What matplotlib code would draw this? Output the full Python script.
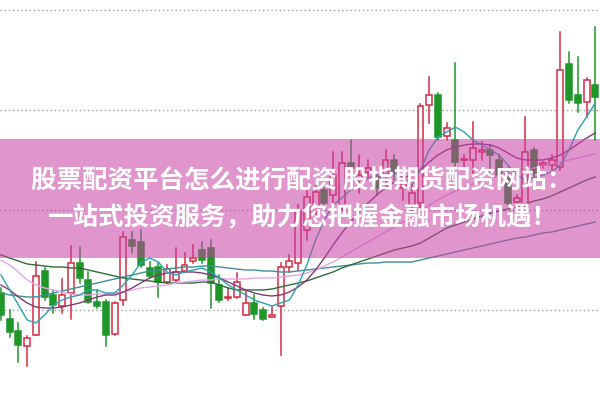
import matplotlib
matplotlib.use("Agg")
import matplotlib.pyplot as plt
from matplotlib.patches import Rectangle
import numpy as np

plt.rcParams['font.family'] = ['Noto Sans CJK SC', 'DejaVu Sans']

# daily candles (index level)
opens  = [3107, 3081, 3069, 3054, 3065, 3129, 3105, 3094, 3107, 3137,
          3120, 3098, 3098, 3066, 3100, 3160, 3158, 3132, 3133, 3118,
          3120, 3129, 3139, 3150, 3152, 3115, 3102, 3103, 3085, 3097,
          3090, 3083, 3094, 3133, 3137, 3170, 3188, 3210, 3205, 3195,
          3237, 3220, 3228, 3223, 3225, 3240, 3212, 3195, 3197, 3295,
          3305, 3264, 3260, 3240, 3240, 3248, 3250, 3240, 3223, 3198,
          3193, 3250, 3235, 3235, 3233, 3336, 3305, 3298, 3315]
highs  = [3112, 3090, 3077, 3064, 3138, 3132, 3110, 3121, 3154, 3153,
          3128, 3110, 3100, 3098, 3168, 3168, 3170, 3138, 3137, 3135,
          3152, 3147, 3155, 3158, 3160, 3125, 3112, 3127, 3110, 3105,
          3092, 3093, 3137, 3145, 3195, 3210, 3215, 3220, 3248, 3248,
          3260, 3245, 3240, 3228, 3250, 3245, 3223, 3215, 3296, 3323,
          3307, 3277, 3337, 3245, 3278, 3258, 3255, 3245, 3232, 3205,
          3283, 3252, 3238, 3245, 3368, 3348, 3343, 3322, 3373]
lows   = [3080, 3063, 3038, 3034, 3065, 3100, 3087, 3087, 3081, 3117,
          3097, 3092, 3054, 3065, 3095, 3147, 3133, 3122, 3103, 3117,
          3118, 3128, 3137, 3137, 3092, 3098, 3100, 3102, 3085, 3081,
          3080, 3083, 3045, 3128, 3130, 3160, 3185, 3190, 3190, 3190,
          3220, 3207, 3222, 3205, 3213, 3220, 3200, 3190, 3190, 3277,
          3260, 3260, 3233, 3233, 3227, 3240, 3227, 3220, 3195, 3193,
          3193, 3220, 3232, 3230, 3230, 3297, 3288, 3283, 3260]
closes = [3085, 3068, 3055, 3062, 3124, 3103, 3095, 3105, 3137, 3122,
          3098, 3094, 3065, 3097, 3163, 3154, 3135, 3124, 3118, 3131,
          3128, 3135, 3142, 3140, 3117, 3100, 3103, 3118, 3097, 3086,
          3081, 3085, 3133, 3139, 3188, 3203, 3208, 3197, 3225, 3237,
          3232, 3225, 3232, 3212, 3240, 3228, 3215, 3207, 3294, 3305,
          3263, 3272, 3238, 3241, 3252, 3250, 3245, 3225, 3197, 3202,
          3248, 3227, 3237, 3240, 3330, 3300, 3297, 3320, 3303]

# moving average lines
ma5  = [3125, 3110, 3095, 3080, 3077, 3085, 3095, 3100, 3103, 3105,
        3110, 3110, 3107, 3107, 3115, 3125, 3137, 3142, 3138, 3128,
        3125, 3128, 3130, 3132, 3128, 3122, 3115, 3110, 3105, 3100,
        3097, 3094, 3097, 3100, 3115, 3135, 3160, 3180, 3195, 3202,
        3210, 3215, 3222, 3225, 3226, 3228, 3222, 3215, 3230, 3250,
        3263, 3268, 3273, 3268, 3260, 3255, 3250, 3245, 3235, 3225,
        3220, 3222, 3225, 3228, 3235, 3250, 3270, 3283, 3297]
ma10 = [3115, 3110, 3103, 3097, 3093, 3092, 3092, 3093, 3095, 3097,
        3100, 3103, 3105, 3105, 3108, 3112, 3117, 3122, 3125, 3127,
        3128, 3128, 3128, 3127, 3125, 3122, 3118, 3114, 3110, 3107,
        3105, 3104, 3105, 3108, 3113, 3120, 3130, 3142, 3155, 3167,
        3178, 3188, 3197, 3205, 3212, 3218, 3222, 3225, 3230, 3238,
        3245, 3250, 3253, 3255, 3256, 3256, 3255, 3252, 3247, 3242,
        3240, 3240, 3240, 3242, 3245, 3250, 3256, 3262, 3267]
ma20 = [3140, 3135, 3128, 3120, 3115, 3112, 3110, 3108, 3106, 3105,
        3105, 3106, 3106, 3107, 3108, 3110, 3112, 3113, 3114, 3115,
        3117, 3118, 3119, 3120, 3120, 3121, 3121, 3121, 3121, 3122,
        3122, 3122, 3123, 3124, 3125, 3127, 3130, 3134, 3138, 3143,
        3148, 3153, 3158, 3163, 3168, 3173, 3178, 3182, 3188, 3195,
        3200, 3205, 3209, 3213, 3216, 3219, 3222, 3224, 3226, 3228,
        3230, 3232, 3234, 3236, 3238, 3240, 3242, 3244, 3246]
ma30 = [3145, 3142, 3139, 3136, 3135, 3134, 3133, 3133, 3132, 3132,
        3130, 3128, 3126, 3124, 3122, 3121, 3120, 3119, 3118, 3117,
        3117, 3117, 3117, 3118, 3118, 3115, 3112, 3110, 3110, 3110,
        3110, 3111, 3113, 3115, 3117, 3119, 3122, 3125, 3128, 3132,
        3135, 3138, 3141, 3144, 3147, 3150, 3152, 3154, 3157, 3162,
        3167, 3172, 3175, 3178, 3181, 3184, 3187, 3189, 3191, 3193,
        3196, 3199, 3201, 3204, 3208, 3212, 3216, 3220, 3223]
ma60 = [3107, 3105, 3104, 3103, 3103, 3105, 3107, 3109, 3111, 3113,
        3115, 3117, 3119, 3121, 3123, 3125, 3127, 3129, 3130, 3131,
        3132, 3133, 3133, 3134, 3134, 3133, 3132, 3131, 3130, 3130,
        3129, 3129, 3128, 3128, 3129, 3130, 3131, 3132, 3133, 3134,
        3135, 3136, 3137, 3137, 3138, 3138, 3138, 3138, 3140, 3142,
        3144, 3146, 3148, 3150, 3152, 3154, 3156, 3158, 3160, 3162,
        3163, 3165, 3167, 3168, 3170, 3172, 3174, 3176, 3178]

title1 = "股票配资平台怎么进行配资 股指期货配资网站："
title2 = "一站式投资服务，助力您把握金融市场机遇！"

RED = "#d42a45"
GREEN = "#1e9628"

fig = plt.figure(figsize=(6, 3.99), dpi=100)
ax = fig.add_axes([0, 0, 1, 1])

x = np.arange(len(opens))
w = 0.68
for i in x:
    o, h, l, c = opens[i], highs[i], lows[i], closes[i]
    up = c >= o
    col = RED if up else GREEN
    ax.plot([i, i], [l, h], color=col, lw=1.1, zorder=2)
    lo, hi = min(o, c), max(o, c)
    body = Rectangle((i - w / 2, lo), w, max(hi - lo, 0.8),
                     facecolor="white" if up else col,
                     edgecolor=col, lw=1.1, zorder=3)
    ax.add_patch(body)

ax.plot(x, ma60, color="#3f8f95", lw=1.0, zorder=4)
ax.plot(x, ma30, color="#2f6b3a", lw=1.0, zorder=4)
ax.plot(x, ma20, color="#e3a6e6", lw=1.0, zorder=4)
ax.plot(x, ma10, color="#7e3a78", lw=1.0, zorder=4)
ax.plot(x, ma5, color="#2aa3ad", lw=1.0, zorder=4)

ax.set_xlim(-0.11, 68.54)
ax.set_ylim(3001, 3400)
ax.set_yticks([3090, 3190, 3290, 3390])
ax.grid(axis="y", linestyle=(0, (1, 2)), color="#9a9a9a", lw=1.0)
ax.set_axisbelow(True)
ax.tick_params(left=False, bottom=False, labelleft=False, labelbottom=False)
for s in ax.spines.values():
    s.set_visible(False)

# pink banner across the middle
banner = Rectangle((0, 0.3534), 1, 0.2982, transform=fig.transFigure,
                   facecolor="#c840a4", alpha=0.55, edgecolor="none", zorder=10)
fig.patches.append(banner)
fig.text(0.503, 0.547, title1, ha="center", va="center", color="white",
         fontsize=18.4, fontweight="bold", zorder=11)
fig.text(0.503, 0.456, title2, ha="center", va="center", color="white",
         fontsize=18.4, fontweight="bold", zorder=11)

fig.savefig("out.png", dpi=100)
